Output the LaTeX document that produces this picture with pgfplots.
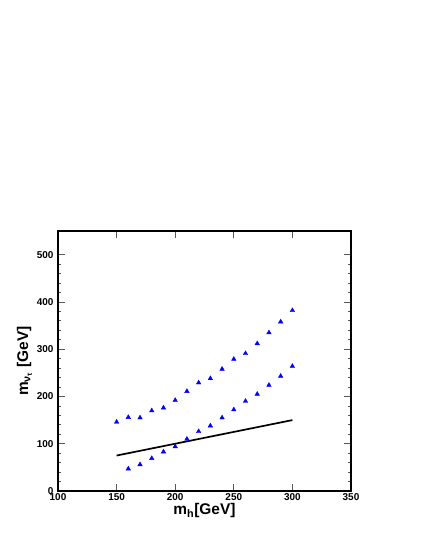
\documentclass[border=0pt]{standalone}
\usepackage{pgfplots}
\pgfplotsset{compat=1.18}
\usepackage{fontspec}
\setmainfont{Liberation Sans}

\pgfplotstableread{
x y
150 146
160 156
170 155
180 170
190 176
200 192
210 211
220 229
230 238
240 258
250 279
260 291
270 312
280 335
290 358
300 382
}\upperband

\pgfplotstableread{
x y
160 47
170 56
180 69
190 83
200 94
210 110
220 126
230 138
240 155
250 172
260 190
270 205
280 224
290 243
300 264
}\lowerband

\begin{document}
\begin{tikzpicture}
\begin{axis}[
    scale only axis,
    width=293bp, height=260bp,
    xmin=100, xmax=350, ymin=0, ymax=550,
    xtick={100,150,...,350},
    ytick={0,100,...,500},
    minor y tick num=4,
    tick align=inside,
    major tick length=7bp,
    minor tick length=3.5bp,
    every tick/.style={gray!70!black, line width=0.8pt},
    axis line style={line width=1.5pt},
    tick label style={font=\bfseries\fontsize{10}{11}\selectfont},
    yticklabel style={xshift=-1bp},
    xticklabel style={yshift=1bp},
    /pgf/number format/assume math mode=true,
    xlabel={m\textsubscript{h}[GeV]},
    ylabel={m\textsubscript{ν\textsubscript{τ}} [GeV]},
    label style={font=\bfseries\fontsize{15.5}{17}\selectfont},
    xlabel style={yshift=4bp},
    ylabel style={yshift=-2bp},
]
\addplot[only marks, mark=triangle*, mark size=2.6bp, blue] table[x=x,y=y] {\upperband};
\addplot[only marks, mark=triangle*, mark size=2.6bp, blue] table[x=x,y=y] {\lowerband};
\addplot[black, line width=1.7pt] coordinates {(150,75) (300,150)};
\end{axis}
\pgfresetboundingbox
\useasboundingbox (-58bp,-54bp) rectangle (363bp,491bp);
\end{tikzpicture}
\end{document}
